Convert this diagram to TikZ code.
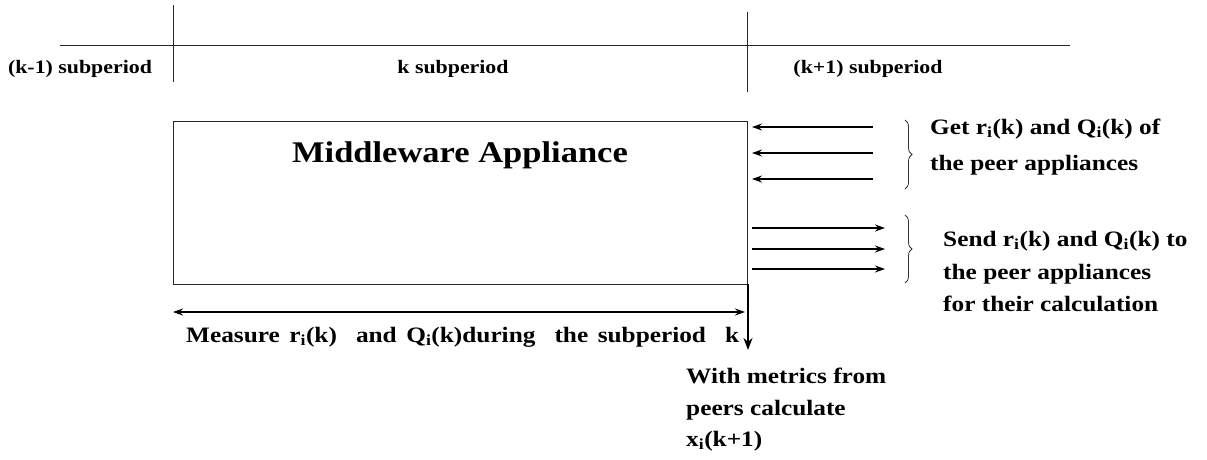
\documentclass[tikz,border=0pt]{standalone}
\usepackage{fontspec}
\setmainfont[FakeStretch=1.15]{Liberation Serif}
\usetikzlibrary{arrows.meta,decorations.pathreplacing}
\begin{document}
\begin{tikzpicture}[x=1pt,y=-1pt,
  thin line/.style={line width=0.9pt, draw=black!85},
  arr/.style={line width=1.2pt, -{Stealth[length=10pt,width=7pt]}},
  brc/.style={line width=0.8pt, draw=black!80, decorate, decoration={brace, amplitude=7pt}},
  period/.style={font=\fontsize{19}{22}\selectfont\bfseries, inner sep=0pt, anchor=base},
  lbl/.style={font=\fontsize{22}{26}\selectfont\bfseries, inner sep=0pt, anchor=base west}]
\useasboundingbox (0,0) rectangle (1207,459);

% time line and subperiod boundaries
\coordinate (tl) at (60,45);
\coordinate (tr) at (1070,45);
\coordinate (b1t) at (173,5);
\coordinate (b1b) at (173,82);
\coordinate (b2t) at (747,12);
\coordinate (b2b) at (747,92);
\draw[thin line] (tl) -- (tr);
\draw[thin line] (b1t) -- (b1b);
\draw[thin line] (b2t) -- (b2b);

\node[period] (p1) at (80,73) {(k-1) subperiod};
\node[period] (p2) at (453,73) {k subperiod};
\node[period] (p3) at (868,73) {(k+1) subperiod};

% appliance box
\draw[thin line] (173,121) rectangle (747,284);
\node[inner sep=0pt, anchor=base, font=\fontsize{30}{34}\selectfont\bfseries] (mw) at (460,162) {Middleware Appliance};

% incoming metrics
\foreach \y [count=\i] in {127,153,179}{
  \coordinate (ins\i) at (873,\y);
  \coordinate (ine\i) at (752,\y);
  \draw[arr] (ins\i) -- (ine\i);
}
\coordinate (g1) at (905,120);
\coordinate (g2) at (905,189);
\draw[brc] (g1) -- (g2);
\node[lbl] (get1) at (930,134) {Get r\textsubscript{i}(k) and Q\textsubscript{i}(k) of};
\node[lbl] (get2) at (930,170) {the peer appliances};

% outgoing metrics
\foreach \y [count=\i] in {228,249,269}{
  \coordinate (outs\i) at (752,\y);
  \coordinate (oute\i) at (885,\y);
  \draw[arr] (outs\i) -- (oute\i);
}
\coordinate (s1) at (905,215);
\coordinate (s2) at (905,283);
\draw[brc] (s1) -- (s2);
\node[lbl] (send1) at (943,246) {Send r\textsubscript{i}(k) and Q\textsubscript{i}(k) to};
\node[lbl] (send2) at (943,279) {the peer appliances};
\node[lbl] (send3) at (943,311) {for their calculation};

% measurement interval
\coordinate (m1) at (173,312);
\coordinate (m2) at (745,312);
\draw[line width=1.2pt, {Stealth[length=10pt,width=7pt]}-{Stealth[length=10pt,width=7pt]}] (m1) -- (m2);
\node[lbl] (meas) at (186,342)
  {\makebox[553pt][s]{Measure r\textsubscript{i}(k) \ and Q\textsubscript{i}(k)during \ the subperiod \ k}};

% calculation step
\coordinate (c1) at (748,284);
\coordinate (c2) at (748,350);
\draw[line width=2.2pt, -{Stealth[length=12pt,width=9pt]}] (c1) -- (c2);
\node[lbl] (calc1) at (686,383) {With metrics from};
\node[lbl] (calc2) at (686,415) {peers calculate};
\node[lbl] (calc3) at (686,446) {x\textsubscript{i}(k+1)};
\end{tikzpicture}
\end{document}
